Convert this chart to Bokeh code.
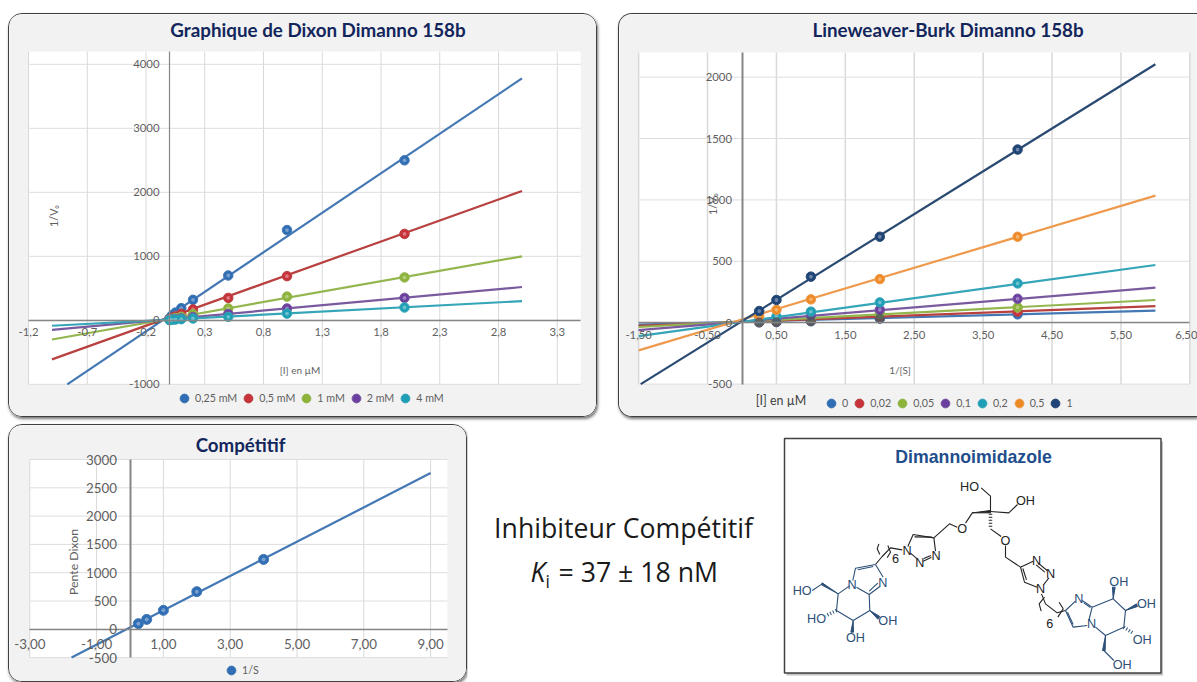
from bokeh.plotting import figure
from bokeh.layouts import column, row
from bokeh.embed import file_html
from bokeh.resources import INLINE
from bokeh.core.properties import value
from bokeh.models import (Range1d, FixedTicker, CustomJSTickFormatter, LinearAxis, Legend, LegendItem, Label)

FONT = "Lato"
# ---------- Dixon ----------
dixon_x = [0, 0.02, 0.05, 0.1, 0.2, 0.5, 1, 2]
dixon_names = ["0,25 mM", "0,5 mM", "1 mM", "2 mM", "4 mM"]
dixon_y = [
    [30, 75, 120, 190, 320, 700, 1410, 2500],
    [15, 40, 60, 100, 170, 350, 690, 1350],
    [8, 20, 35, 55, 95, 185, 370, 670],
    [5, 12, 20, 30, 50, 100, 185, 350],
    [3, 8, 12, 18, 28, 55, 105, 200],
]
dixon_fit_x = [[-0.87, 3], [-1, 3], [-1, 3], [-1, 3], [-1, 3]]
dixon_fit_y = [[-1000, 3780], [-610, 2020], [-300, 1000], [-150, 520], [-85, 300]]
dixon_xticks = [-1.2, -0.7, -0.2, 0.3, 0.8, 1.3, 1.8, 2.3, 2.8, 3.3]
dixon_yticks = [-1000, 0, 1000, 2000, 3000, 4000]
dixon_colors = ["#4478b4", "#b8413f", "#93b64f", "#7a5a9e", "#35a5b8"]
dixon_dots = ["#2f6db5", "#c8323a", "#8db33a", "#6b3fa0", "#1f9fb5"]

# ---------- Lineweaver-Burk ----------
lb_x = [0.25, 0.5, 1, 2, 4]
lb_names = ["0", "0,02", "0,05", "0,1", "0,2", "0,5", "1"]
lb_y = [
    [5, 10, 18, 35, 68],
    [8, 16, 28, 50, 90],
    [12, 22, 40, 70, 125],
    [20, 35, 60, 105, 195],
    [25, 50, 90, 165, 320],
    [55, 105, 190, 355, 700],
    [95, 185, 375, 700, 1410],
]
lb_dark_x = [0.25, 0.5, 1, 2]
lb_dark_y = [3, 5, 12, 35]
lb_fit_x = [[-1.5, 6]] * 6 + [[-1.47, 6]]
lb_fit_y = [[-15, 98], [-25, 135], [-35, 185], [-60, 285], [-110, 470], [-225, 1035], [-500, 2105]]
lb_xticks = [-1.5, -0.5, 0.5, 1.5, 2.5, 3.5, 4.5, 5.5, 6.5]
lb_yticks = [-500, 0, 500, 1000, 1500, 2000]
lb_colors = ["#4478b4", "#b8413f", "#93b64f", "#7a5a9e", "#35a5b8", "#ee9a4d", "#2b4a72"]
lb_dots = ["#2f6db5", "#c8323a", "#8db33a", "#6b3fa0", "#1f9fb5", "#ee8a25", "#1f4478"]

# ---------- Competitive ----------
comp_x = [0.25, 0.5, 1, 2, 4]
comp_y = [100, 175, 335, 665, 1235]
comp_fit_x = [-1.75, 9]
comp_fit_y = [-500, 2760]
comp_xticks = [-3, -1, 1, 3, 5, 7, 9]
comp_yticks = [-500, 0, 500, 1000, 1500, 2000, 2500, 3000]

PANEL = "#f2f2f2"
TICK = "#5f5f5f"
NAVY = "#12265c"
BW = 1.5


def panel_style(radius, extra=None):
    s = {"border": f"{BW}px solid #3f3f3f", "border-radius": radius, "overflow": "hidden",
         "box-shadow": "1px 2px 3px #777", "box-sizing": "border-box"}
    s.update(extra or {})
    return s


class Chart:
    """One chart panel; the frame fills the panel so labels outside the white plot area are not clipped."""

    def __init__(self, box, origin, scale, xb, yb, xticks, yticks, margin, style, digits=1, tick_size="8.5pt",
                 gridw=1, x_standoff=8, y_standoff=10, yaxis_w=1.2, xaxis_w=1.6):
        left, top, w, h = box
        self.left, self.top, self.h = left + BW, top + BW, h
        self.ox, self.oy = origin
        self.sx, self.sy = scale
        self.xb, self.yb = xb, yb
        xr = Range1d(self.dx(self.left), self.dx(self.left + w))
        yr = Range1d(self.dy(self.top + h), self.dy(self.top))
        p = figure(width=w, height=h, x_range=xr, y_range=yr, output_backend="svg", toolbar_location=None,
                   min_border=0, x_axis_type=None, y_axis_type=None, margin=margin, styles=style,
                   background_fill_color=PANEL, border_fill_color=PANEL, outline_line_color=None)
        p.grid.visible = False
        p.quad(left=[xb[0]], right=[xb[1]], bottom=[yb[0]], top=[yb[1]], fill_color="white", line_color=None,
               level="underlay")
        p.segment(xticks, [yb[0]] * len(xticks), xticks, [yb[1]] * len(xticks), line_color="#d9d9d9",
                  line_width=gridw, level="underlay")
        p.segment([xb[0]] * len(yticks), yticks, [xb[1]] * len(yticks), yticks, line_color="#dedede",
                  line_width=1, level="underlay")
        fx = CustomJSTickFormatter(code="return tick.toFixed(%d).replace('.', ',')" % digits)
        fy = CustomJSTickFormatter(code="return tick.toFixed(0)")
        xa = LinearAxis(ticker=FixedTicker(ticks=xticks), formatter=fx, fixed_location=0, bounds=xb)
        ya = LinearAxis(ticker=FixedTicker(ticks=yticks), formatter=fy, fixed_location=0, bounds=yb)
        for a, st, lw in ((xa, x_standoff, xaxis_w), (ya, y_standoff, yaxis_w)):
            a.major_tick_in = a.major_tick_out = a.minor_tick_in = a.minor_tick_out = 0
            a.axis_line_color = "#868686"
            a.axis_line_width = lw
            a.major_label_text_color = TICK
            a.major_label_text_font = FONT
            a.major_label_text_font_size = tick_size
            a.major_label_standoff = st
        p.add_layout(xa, "below")
        p.add_layout(ya, "left")
        self.p = p

    def dx(self, px):
        return (px - self.ox) / self.sx

    def dy(self, py):
        return (self.oy - py) / self.sy

    def note(self, px, py, text, size="9pt", angle=0, color=TICK, bold=False):
        self.p.add_layout(Label(x=self.dx(px), y=self.dy(py), text=text, text_font=FONT, text_font_size=size,
                                text_color=color, angle=angle, angle_units="deg", text_align="center",
                                text_baseline="middle", text_font_style="bold" if bold else "normal"))

    def legend(self, items, px, py, size="8pt", spacing=5):
        # legend markers are drawn at 0.4 of the glyph box, so the box is wide and items are pulled together
        loc = (px - 6.5 - self.left, self.top + self.h - py - 11)
        self.p.add_layout(Legend(items=items, orientation="horizontal", location=loc, border_line_alpha=0,
                                 background_fill_alpha=0, glyph_width=22, glyph_height=22, label_standoff=-6,
                                 label_width=0, spacing=spacing, padding=0, margin=0, label_text_font=FONT,
                                 label_text_font_size=size, label_text_color=TICK, label_height=11))

    def series(self, xs, ys, fx, fy, color, dot, name, size=9.5):
        self.p.line(fx, fy, line_color=color, line_width=2.2)
        r = self.p.scatter(xs, ys, size=size, fill_color=dot, line_color=color)
        self.p.scatter(xs, ys, size=size * 0.4, fill_color="white", fill_alpha=0.35, line_color=None)
        return LegendItem(label=name, renderers=[r])


# Dixon chart
c1 = Chart((8, 13, 589, 404), (169.5, 320.3), (117.5, 0.064), (-1.2, 3.5), (-1000, 4200), dixon_xticks, dixon_yticks,
           (13, 21, 0, 8), panel_style("14px"))
items = [c1.series(dixon_x, ys, fx, fy, c, d, n)
         for ys, fx, fy, c, d, n in zip(dixon_y, dixon_fit_x, dixon_fit_y, dixon_colors, dixon_dots, dixon_names)]
c1.legend(items, 180, 398, spacing=-2)
c1.note(318, 29, "Graphique de Dixon Dimanno 158b", size="14.1pt", color=NAVY, bold=True)
c1.note(53.5, 216, "1/V₀", size="8pt", angle=90)
c1.note(300, 370, "[I] en µM", size="7.5pt")

# Lineweaver-Burk chart
c2 = Chart((618, 13, 579, 404), (742, 322.7), (68.9, 0.1228), (-1.5, 6.5), (-500, 2200), lb_xticks, lb_yticks,
           (13, 0, 0, 0), panel_style("14px 0 0 14px", {"border-right": "none"}), digits=2, gridw=1.5, yaxis_w=2)
c2.p.scatter(lb_dark_x, lb_dark_y, size=9.5, fill_color="#50545c", line_color="#50545c")
items = [c2.series(lb_x, ys, fx, fy, c, d, n)
         for ys, fx, fy, c, d, n in zip(lb_y, lb_fit_x, lb_fit_y, lb_colors, lb_dots, lb_names)]
c2.p.scatter(lb_dark_x, lb_dark_y, size=9.5, fill_color="#50545c", fill_alpha=0.8, line_color=None)
c2.legend(items, 827, 403, spacing=-7)
c2.note(948, 29, "Lineweaver-Burk Dimanno 158b", size="14.1pt", color=NAVY, bold=True)
c2.note(712, 204, "1/V₀", size="8pt", angle=90)
c2.note(900, 370, "1/[S]", size="7.5pt")
c2.note(781, 400, "[I] en µM", size="9.3pt", color="#3f3f3f")

# Competitive chart
c3 = Chart((8, 424, 459, 258), (130, 629.3), (33.4, 0.0566), (-3, 9.5), (-500, 3000), comp_xticks, comp_yticks,
           (7, 0, 0, 8), panel_style("14px"), digits=2, tick_size="10pt", x_standoff=10, y_standoff=13, yaxis_w=2)
item = c3.series(comp_x, comp_y, comp_fit_x, comp_fit_y, "#4478b4", "#2f6db5", "1/S", size=10)
c3.legend([item], 227, 670, size="8pt")
c3.note(240.5, 445, "Compétitif", size="14pt", color=NAVY, bold=True)
c3.note(73, 562, "Pente Dixon", size="9.2pt", angle=90)

# ---------- Right part: summary text and drawn structure ----------
summary_top = "Inhibiteur Compétitif"
summary_k = "K"
summary_i = "i"
summary_value = "= 37 ± 18 nM"
structure_title = "Dimannoimidazole"

# structure drawing, coordinates on the drawing's own grid
black_bonds = [
    [(660, 243), (660, 197), (632, 172)], [(660, 243), (715, 247), (741, 222)],
    [(607, 245), (585, 278)], [(560, 290), (537, 280), (490, 322)],
    [(660, 295), (692, 318)], [(705, 345), (705, 380), (750, 410)],
    [(490, 322), (428, 312), (412, 348)], [(484, 320), (432, 319)], [(490, 322), (495, 362)],
    [(420, 368), (440, 385)], [(458, 392), (483, 380)], [(460, 384), (481, 375)],
    [(750, 410), (788, 392)], [(803, 398), (830, 420)], [(797, 403), (823, 425)], [(835, 442), (820, 462)],
    [(800, 470), (762, 455), (750, 410)], [(768, 448), (757, 414)],
    [(395, 358), (360, 352), (335, 378), (315, 402)],
    [(325, 340), (320, 355), (328, 372)], [(352, 345), (360, 365), (350, 382)],
    [(813, 490), (825, 520), (860, 547), (885, 540)],
    [(822, 500), (806, 520), (812, 542)], [(866, 515), (878, 535), (862, 560)],
]
blue_bonds = [
    [(315, 402), (255, 413), (247, 450)], [(308, 408), (262, 418)], [(258, 470), (296, 492), (328, 468)],
    [(296, 482), (322, 458)], [(338, 440), (315, 402)],
    [(237, 466), (203, 490), (198, 540), (248, 570), (298, 540), (296, 492)],
    [(155, 460), (125, 480)],
    [(885, 540), (915, 512)], [(935, 510), (965, 530), (955, 570)], [(940, 517), (960, 531)],
    [(950, 585), (908, 590), (885, 540)], [(908, 582), (891, 545)],
    [(965, 530), (1028, 505), (1065, 540), (1060, 590), (1005, 615), (975, 590)],
    [(1000, 660), (1030, 690)],
]
black_wedges = [[(660, 240), (660, 247), (607, 247)]]
blue_wedges = [
    [(203, 490), (155, 457), (153, 463)], [(248, 570), (241, 605), (249, 605)],
    [(298, 540), (322, 566), (328, 558)], [(1028, 505), (1026, 470), (1034, 470)],
    [(1065, 540), (1098, 520), (1101, 528)], [(1005, 615), (996, 660), (1004, 660)],
]
black_hashes = [[(660, 250), (660, 295)]]
blue_hashes = [[(198, 540), (165, 556)], [(1060, 590), (1088, 608)]]
black_atoms = [("HO", 597, 168), ("OH", 765, 210), ("O", 575, 295), ("O", 705, 330), ("N", 410, 360),
               ("N", 448, 397), ("N", 497, 375), ("N", 798, 390), ("N", 840, 430), ("N", 810, 476),
               ("6", 375, 385), ("6", 838, 580)]
blue_atoms = [("N", 245, 462), ("N", 337, 457), ("HO", 95, 482), ("HO", 138, 565), ("OH", 255, 622), ("OH", 352, 570),
              ("N", 925, 505), ("N", 963, 580), ("OH", 1045, 455), ("OH", 1128, 520), ("OH", 1115, 628),
              ("OH", 1055, 703)]

f4 = figure(width=730, height=258, x_range=Range1d(467, 1197), y_range=Range1d(682, 424), output_backend="svg",
            toolbar_location=None, min_border=0, x_axis_type=None, y_axis_type=None, outline_line_color=None,
            background_fill_color="white", border_fill_color="white", margin=(7, 0, 0, 0))
f4.grid.visible = False


def px(pt):
    return 770 + pt[0] / 3


def py(pt):
    return 430 + pt[1] / 3


f4.quad(left=[786], right=[1162.5], top=[441], bottom=[675], fill_color="#9a9a9a", line_color=None, fill_alpha=0.6)
f4.quad(left=[784], right=[1160.5], top=[438], bottom=[672.5], fill_color="white", line_color="#404040", line_width=1.5)
f4.text([623], [527], text=[summary_top], text_font=value("Open Sans"), text_font_size="20pt",
        text_color="#1a1a1a", text_align="center", text_baseline="middle")
f4.text([530], [571], text=[summary_k], text_font=value("Open Sans"), text_font_style="italic",
        text_font_size="20pt", text_color="#1a1a1a", text_baseline="middle")
f4.text([545], [580], text=[summary_i], text_font=value("Open Sans"), text_font_size="13pt",
        text_color="#1a1a1a", text_baseline="middle")
f4.text([558], [571], text=[summary_value], text_font=value("Open Sans"), text_font_size="20pt",
        text_color="#1a1a1a", text_baseline="middle")
f4.text([973], [456], text=[structure_title], text_font=value("Liberation Sans"), text_font_style="bold",
        text_font_size="13.3pt", text_color="#1f4e8c", text_align="center", text_baseline="middle")

for bonds, wedges, hashes, atoms, col in ((black_bonds, black_wedges, black_hashes, black_atoms, "#222222"),
                                          (blue_bonds, blue_wedges, blue_hashes, blue_atoms, "#2c4f78")):
    f4.multi_line([[px(q) for q in b] for b in bonds], [[py(q) for q in b] for b in bonds],
                  line_color=col, line_width=1.1)
    f4.patches([[px(q) for q in w] for w in wedges], [[py(q) for q in w] for w in wedges],
               fill_color=col, line_color=col)
    f4.multi_line([[px(q) for q in h] for h in hashes], [[py(q) for q in h] for h in hashes],
                  line_color=col, line_width=3.5, line_dash="1 2")
    f4.text([px(a[1:]) for a in atoms], [py(a[1:]) for a in atoms], text=[a[0] for a in atoms],
            text_font=value("Liberation Sans"), text_font_size="9.5pt", text_color=col,
            text_align="center", text_baseline="middle")

page = column(row(c1.p, c2.p, spacing=0), row(c3.p, f4, spacing=0), spacing=0)
open("out.html", "w").write(file_html(page, INLINE))
